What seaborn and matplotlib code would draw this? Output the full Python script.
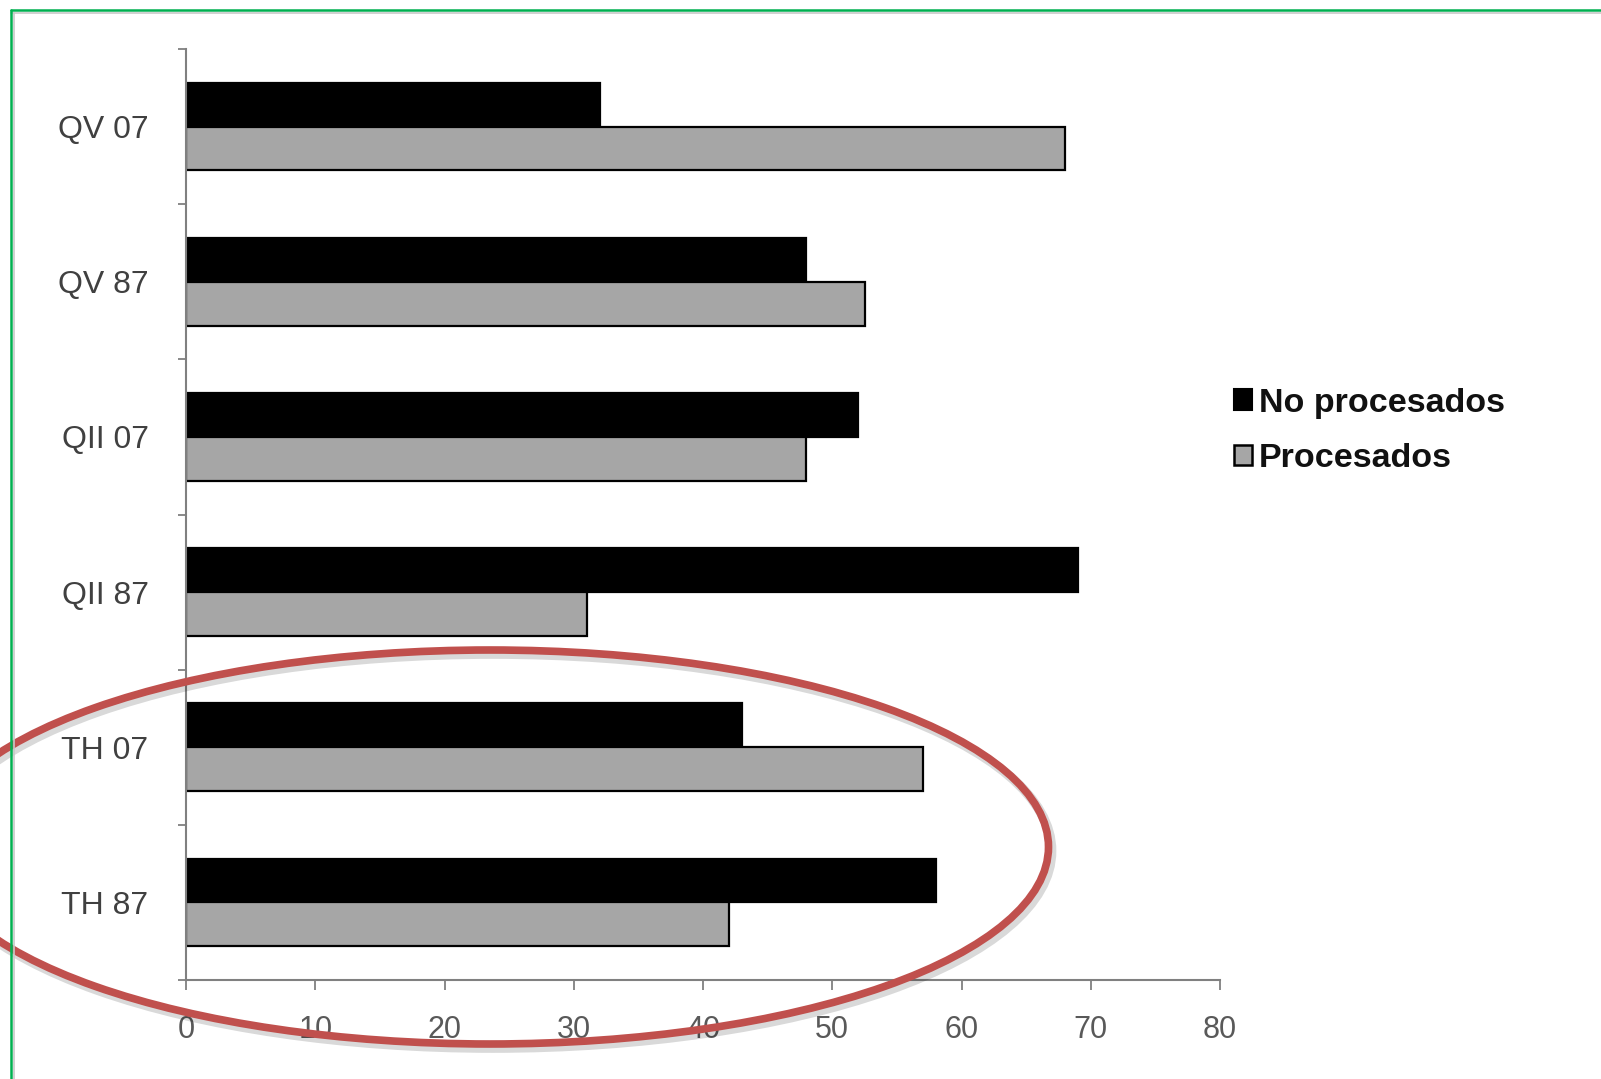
import matplotlib
matplotlib.use("Agg")
import matplotlib.pyplot as plt
import seaborn as sns
import pandas as pd
from matplotlib.patches import Ellipse, Patch
from matplotlib.lines import Line2D

categories = ["QV 07", "QV 87", "QII 07", "QII 87", "TH 07", "TH 87"]
no_procesados = [32, 48, 52, 69, 43, 58]
procesados = [68, 52.5, 48, 31, 57, 42]
series_names = ["No procesados", "Procesados"]
x_ticks = [0, 10, 20, 30, 40, 50, 60, 70, 80]

df = pd.DataFrame({
    "cat": categories * 2,
    "val": no_procesados + procesados,
    "serie": [series_names[0]] * len(categories) + [series_names[1]] * len(categories),
})

sns.set_theme(style="white")
plt.rcParams["font.family"] = ["Liberation Sans", "DejaVu Sans"]

W, H = 1601, 1079
fig = plt.figure(figsize=(W / 100, H / 100), dpi=100)
ax = fig.add_axes([186 / W, 1 - 980 / H, (1220 - 186) / W, (980 - 49) / H])

palette = {series_names[0]: "black", series_names[1]: "#A6A6A6"}
sns.barplot(data=df, y="cat", x="val", hue="serie", order=categories,
            hue_order=series_names, palette=palette, orient="h",
            width=0.566, edgecolor="black", linewidth=1.6,
            saturation=1, ax=ax, legend=False)

ax.set_xlim(0, 80)
ax.set_ylim(len(categories) - 0.5, -0.5)
ax.set_xticks(x_ticks)
ax.set_xticklabels([str(t) for t in x_ticks])
ax.set_xlabel("")
ax.set_ylabel("")

for s in ["top", "right"]:
    ax.spines[s].set_visible(False)
for s in ["left", "bottom"]:
    ax.spines[s].set_color("#808080")
    ax.spines[s].set_linewidth(1.5)

ax.tick_params(axis="x", which="major", direction="out", length=7, width=1.3,
               color="#808080", labelsize=22, labelcolor="#595959", pad=18, bottom=True)
ax.set_yticks([i - 0.5 for i in range(len(categories) + 1)], minor=True)
ax.tick_params(axis="y", which="minor", direction="out", length=6, width=1.3,
               color="#808080", left=True)
ax.tick_params(axis="y", which="major", length=0, labelsize=23,
               labelcolor="#404040", pad=27)

handles = [Patch(facecolor="black", edgecolor="black", linewidth=1.5),
           Patch(facecolor="#A6A6A6", edgecolor="black", linewidth=1.8)]
fig.legend(handles, series_names, loc="center left",
           bbox_to_anchor=(1203 / W, 1 - 431 / H), frameon=False,
           prop={"size": 24.5, "weight": "bold"}, handlelength=0.55,
           handleheight=0.55, handletextpad=0.2, labelspacing=0.72,
           labelcolor="#111111")

# red annotation ellipse with soft shadow
cx, cy, ew, eh = 490, 847, 1117, 394
shadow = Ellipse(((cx + 3) / W, 1 - (cy + 4) / H), ew / W, eh / H,
                 transform=fig.transFigure, fill=False, edgecolor="#000000",
                 alpha=0.15, linewidth=7)
fig.patches.append(shadow)
ell = Ellipse((cx / W, 1 - cy / H), ew / W, eh / H, transform=fig.transFigure,
              fill=False, edgecolor="#C0504D", linewidth=5.5)
fig.patches.append(ell)

# green frame
fig.add_artist(Line2D([11 / W, 1], [1 - 10 / H, 1 - 10 / H], transform=fig.transFigure,
                      color="#00B050", linewidth=1.8))
fig.add_artist(Line2D([11 / W, 1], [1 - 13 / H, 1 - 13 / H], transform=fig.transFigure,
                      color="#C8C8C8", linewidth=1.2))
fig.add_artist(Line2D([11 / W, 11 / W], [0, 1 - 10 / H], transform=fig.transFigure,
                      color="#00B050", linewidth=1.8))
fig.add_artist(Line2D([14 / W, 14 / W], [0, 1 - 13 / H], transform=fig.transFigure,
                      color="#C8C8C8", linewidth=1.2))

fig.savefig("out.png", dpi=100)
